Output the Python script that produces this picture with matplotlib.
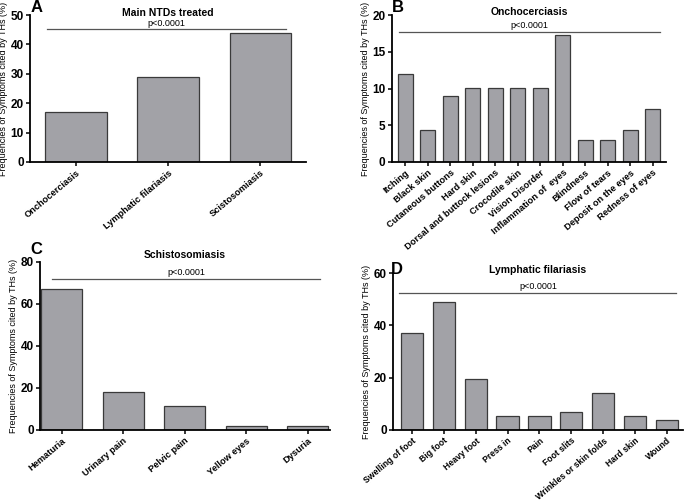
import matplotlib
matplotlib.use("Agg")
import matplotlib.pyplot as plt

plt.rcParams['font.family'] = ['Liberation Sans', 'DejaVu Sans']

# === data ===
a_labels = ["Onchocerciasis", "Lymphatic filariasis", "Scistosomiasis"]
a_values = [17, 29, 44]

b_labels = ["Itching", "Black skin", "Cutaneous buttons", "Hard skin",
            "Dorsal and buttock lesions", "Crocodile skin", "Vision Disorder",
            "Inflammation of  eyes", "Blindness", "Flow of tears",
            "Deposit on the eyes", "Redness of eyes"]
b_values = [12, 4.3, 9, 10.1, 10.1, 10.1, 10.1, 17.3, 3, 3, 4.3, 7.2]

c_labels = ["Hematuria", "Urinary pain", "Pelvic pain", "Yellow eyes", "Dysuria"]
c_values = [67, 18, 11.3, 2, 2]

d_labels = ["Swelling of foot", "Big foot", "Heavy foot", "Press in", "Pain",
            "Foot slits", "Wrinkles or skin folds", "Hard skin", "Wound"]
d_values = [37, 49, 19.3, 5.3, 5.3, 7, 14, 5.3, 4]

ylabel = "Frequencies of Symptoms cited by THs (%)"
bar_color = "#a2a2a7"
edge_color = "#3a3a3a"

fig = plt.figure(figsize=(6.85, 5), dpi=100)


def draw_panel(rect, labels, values, ymax, ystep, xlim, width, pline, title,
               title_y, letter, letter_xy, xfs=6.7):
    ax = fig.add_axes(rect)
    x = list(range(len(values)))
    ax.bar(x, values, width=width, color=bar_color, edgecolor=edge_color,
           linewidth=0.9)
    ax.set_xlim(*xlim)
    ax.set_ylim(0, ymax)
    ax.set_yticks(range(0, ymax + 1, ystep))
    ax.set_xticks(x)
    ax.set_xticklabels(labels, rotation=40, ha='right', rotation_mode='anchor',
                       fontsize=xfs, fontweight='bold')
    for t in ax.get_yticklabels():
        t.set_fontsize(8.5)
        t.set_fontweight('bold')
    ax.spines['top'].set_visible(False)
    ax.spines['right'].set_visible(False)
    ax.spines['left'].set_linewidth(1.3)
    ax.spines['bottom'].set_linewidth(1.3)
    ax.tick_params(axis='both', width=1.1, length=3, pad=1.5)
    ax.set_ylabel(ylabel, fontsize=6.5, labelpad=2)
    # p-value line
    y, x0, x1 = pline
    ax.plot([x0, x1], [y, y], color='#555555', linewidth=0.9, clip_on=False)
    ax.text((x0 + x1) / 2, y + ymax * 0.01, "p<0.0001", ha='center',
            va='bottom', fontsize=6.5)
    ax.text(0.5, title_y, title, transform=ax.transAxes, ha='center',
            va='center', fontsize=7.5, fontweight='bold')
    fig.text(letter_xy[0] / 685, 1 - letter_xy[1] / 500, letter,
             fontsize=12, fontweight='bold', ha='center', va='center')
    return ax


draw_panel([0.0438, 0.676, 0.4036, 0.294], a_labels, a_values, 50, 10,
           (-0.5, 2.5), 0.67, (45.2, -0.32, 2.28), "Main NTDs treated", 1.015,
           "A", (37, 7))
draw_panel([0.572, 0.676, 0.400, 0.294], b_labels, b_values, 20, 5,
           (-0.6, 11.58), 0.67, (17.7, -0.3, 11.3), "Onchocerciasis", 1.02,
           "B", (398, 7))
draw_panel([0.0584, 0.14, 0.4234, 0.336], c_labels, c_values, 80, 20,
           (-0.35, 4.36), 0.67, (71.9, -0.15, 4.2), "Schistosomiasis", 1.04,
           "C", (36, 249))
draw_panel([0.5737, 0.14, 0.423, 0.314], d_labels, d_values, 60, 20,
           (-0.6, 8.5), 0.7, (52.4, -0.4, 8.3), "Lymphatic filariasis", 1.02,
           "D", (397, 270), xfs=6.2)

fig.savefig("out.png", dpi=100)
